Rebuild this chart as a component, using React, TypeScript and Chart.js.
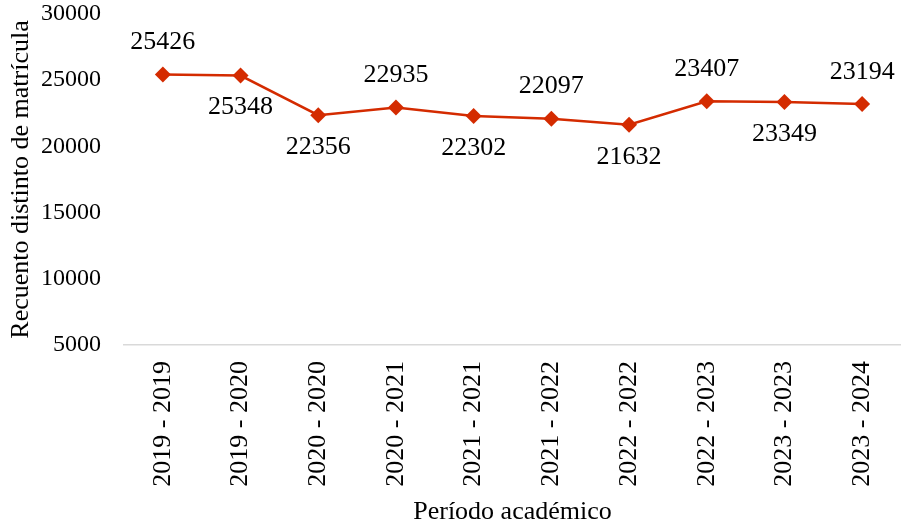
import React, { useEffect, useRef } from "react";
import { Chart, registerables } from "chart.js";

Chart.register(...registerables);

const categories = [
  "2019 - 2019",
  "2019 - 2020",
  "2020 - 2020",
  "2020 - 2021",
  "2021 - 2021",
  "2021 - 2022",
  "2022 - 2022",
  "2022 - 2023",
  "2023 - 2023",
  "2023 - 2024",
];
const values = [25426, 25348, 22356, 22935, 22302, 22097, 21632, 23407, 23349, 23194];
const labelAbove = [true, false, false, true, false, true, false, true, false, true];
const yMin = 5000;
const yMax = 30000;
const yStep = 5000;

const FONT = "'Liberation Serif', 'Times New Roman', serif";
const RED = "#D42B00";

const labelPlugin = {
  id: "pointLabels",
  afterDatasetsDraw(chart: any) {
    const ctx = chart.ctx;
    const meta = chart.getDatasetMeta(0);
    ctx.save();
    ctx.font = `26px ${FONT}`;
    ctx.fillStyle = "#000";
    ctx.textAlign = "center";
    ctx.textBaseline = "middle";
    meta.data.forEach((pt: any, i: number) => {
      const dy = labelAbove[i] ? -32 : 32;
      ctx.fillText(String(values[i]), pt.x, pt.y + dy);
    });
    ctx.restore();
  },
};

export default function App() {
  const ref = useRef<HTMLCanvasElement>(null);
  useEffect(() => {
    if (!ref.current) return;
    const chart = new Chart(ref.current, {
      type: "line",
      data: {
        labels: categories,
        datasets: [
          {
            data: values,
            borderColor: RED,
            backgroundColor: RED,
            borderWidth: 2.5,
            pointStyle: "rectRot",
            pointRadius: 8,
            pointBorderWidth: 0,
            pointBackgroundColor: RED,
            tension: 0,
            clip: false,
          },
        ],
      },
      options: {
        animation: false,
        responsive: true,
        maintainAspectRatio: false,
        layout: { autoPadding: false, padding: { top: 14, right: 0, left: 0, bottom: 0 } },
        plugins: { legend: { display: false }, tooltip: { enabled: false } },
        scales: {
          x: {
            offset: true,
            grid: { display: false, drawTicks: false },
            border: { display: true, color: "#d9d9d9", width: 1.5 },
            ticks: {
              minRotation: 90,
              maxRotation: 90,
              padding: 16,
              color: "#000",
              font: { family: FONT, size: 26 },
            },
            title: {
              display: true,
              text: "Período académico",
              color: "#000",
              font: { family: FONT, size: 26 },
              padding: { top: 0, bottom: 3 },
            },
            afterFit(scale: any) {
              scale.height = 186;
              scale.paddingRight = 0;
              scale.paddingLeft = 0;
            },
          },
          y: {
            min: yMin,
            max: yMax,
            grid: { display: false, drawTicks: false },
            border: { display: false },
            ticks: {
              stepSize: yStep,
              padding: 23,
              color: "#000",
              font: { family: FONT, size: 24 },
              callback: (v: any) => String(v),
            },
            title: {
              display: true,
              text: "Recuento distinto de matrícula",
              color: "#000",
              font: { family: FONT, size: 26 },
              padding: { top: 6, bottom: 0 },
            },
            afterFit(scale: any) {
              scale.width = 124;
              scale.paddingTop = 0;
              scale.paddingBottom = 0;
            },
          },
        },
      },
      plugins: [labelPlugin],
    });
    return () => chart.destroy();
  }, []);
  return (
    <div style={{ position: "fixed", left: 0, top: 0, width: 901, height: 531 }}>
      <canvas ref={ref} />
    </div>
  );
}
